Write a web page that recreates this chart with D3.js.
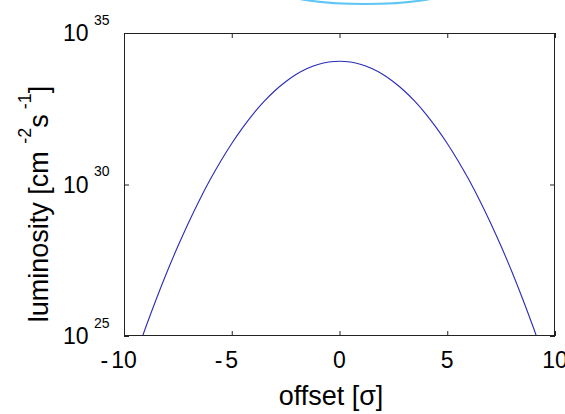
<!DOCTYPE html>
<html><head><meta charset="utf-8">
<script src="https://cdn.jsdelivr.net/npm/d3@7"></script>
<style>
body{margin:0;background:#fff}
svg{display:block}
text{font-family:"Liberation Sans",Arial,Helvetica,sans-serif;fill:#000}
</style></head><body>
<svg id="c" width="565" height="414"></svg>
<script>
// ---- data ----
const offsets = [-10,-9.5,-9,-8.5,-8,-7.5,-7,-6.5,-6,-5.5,-5,-4.5,-4,-3.5,-3,-2.5,-2,-1.5,-1,-0.5,
                 0,0.5,1,1.5,2,2.5,3,3.5,4,4.5,5,5.5,6,6.5,7,7.5,8,8.5,9,9.5,10];
const luminosity = [1.62e23,1.86e24,1.87e25,1.67e26,1.32e27,9.15e27,5.61e28,3.03e29,1.45e30,6.10e30,2.26e31,7.43e31,2.15e32,5.50e32,1.24e33,2.46e33,4.33e33,6.70e33,9.15e33,1.104e34,
                    1.175e34,1.104e34,9.15e33,6.70e33,4.33e33,2.46e33,1.24e33,5.50e32,2.15e32,7.43e31,2.26e31,6.10e30,1.45e30,3.03e29,5.61e28,9.15e27,1.32e27,1.67e26,1.87e25,1.86e24,1.62e23];
const xTicks = [-10,-5,0,5,10];
const yTickExponents = [25,30,35];
const xDomain = [-10,10];
const yDomain = [1e25,1e35];
const xLabel = "offset [σ]";

// ---- layout ----
const svg = d3.select("#c");
const L = 124, R = 555, T = 33, B = 336;
const x = d3.scaleLinear().domain(xDomain).range([L,R]);
const y = d3.scaleLog().domain(yDomain).range([B,T]);
const axisColor = "#222";

// decorative cyan arc at the very top of the reference image
svg.append("ellipse").attr("cx",365).attr("cy",-8).attr("rx",80).attr("ry",12)
  .attr("fill","none").attr("stroke","#5ec6f4").attr("stroke-width",2.2);

// clip
svg.append("clipPath").attr("id","clip").append("rect")
  .attr("x",L).attr("y",T).attr("width",R-L).attr("height",B-T);

// curve
const pts = offsets.map((o,i)=>[o,luminosity[i]]);
svg.append("path").datum(pts)
  .attr("clip-path","url(#clip)")
  .attr("fill","none").attr("stroke","#2a2ab8").attr("stroke-width",1.1)
  .attr("d", d3.line().x(d=>x(d[0])).y(d=>y(d[1])).curve(d3.curveCatmullRom));

// axes (ticks inward, all four sides)
function styleAxis(g){
  g.select(".domain").remove();
  g.selectAll(".tick line").attr("stroke",axisColor).attr("stroke-width",1);
  g.selectAll(".tick text").remove();
}
const yTickVals = yTickExponents.map(e=>Math.pow(10,e));
svg.append("g").attr("transform",`translate(0,${B})`)
  .call(d3.axisBottom(x).tickValues(xTicks).tickSize(-5)).call(styleAxis);
svg.append("g").attr("transform",`translate(0,${T})`)
  .call(d3.axisTop(x).tickValues(xTicks).tickSize(-5)).call(styleAxis);
svg.append("g").attr("transform",`translate(${L},0)`)
  .call(d3.axisLeft(y).tickValues(yTickVals).tickSize(-5)).call(styleAxis);
svg.append("g").attr("transform",`translate(${R},0)`)
  .call(d3.axisRight(y).tickValues(yTickVals).tickSize(-5)).call(styleAxis);

// frame
svg.append("rect").attr("x",L+0.5).attr("y",T+0.5).attr("width",R-L-1).attr("height",B-T-1)
  .attr("fill","none").attr("stroke",axisColor).attr("stroke-width",1);

// x tick labels: digits centred on the tick, minus sign hanging to the left
const tickFs = 23;
xTicks.forEach(v=>{
  const t = svg.append("text")
    .attr("x", x(v)).attr("y", 368)
    .attr("text-anchor","middle").attr("font-size",tickFs)
    .text(String(Math.abs(v)));
  if (v < 0) {
    const w = t.node().getComputedTextLength();
    svg.append("text").attr("x", x(v) - w/2 - 3).attr("y", 368)
      .attr("text-anchor","end").attr("font-size",tickFs).text("-");
  }
});

// y tick labels 10^e
yTickExponents.forEach(e=>{
  const yy = y(Math.pow(10,e));
  svg.append("text").attr("x",63).attr("y",yy+8).attr("font-size",tickFs).text("10");
  svg.append("text").attr("x",94).attr("y",yy-8.5).attr("font-size",14).text(String(e));
});

// x axis label
svg.append("text").attr("x",331).attr("y",405).attr("text-anchor","middle")
  .attr("font-size",27).text(xLabel);

// y axis label
const yl = svg.append("text").attr("transform","translate(48,204) rotate(-90)")
  .attr("text-anchor","middle").attr("font-size",27);
yl.append("tspan").text("luminosity [cm ");
yl.append("tspan").attr("font-size",18).attr("dy",-17).text("-2");
yl.append("tspan").attr("dy",17).text("s");
yl.append("tspan").attr("font-size",18).attr("dy",-17).text(" -1");
yl.append("tspan").attr("dy",17).text("]");
</script>
</body></html>
